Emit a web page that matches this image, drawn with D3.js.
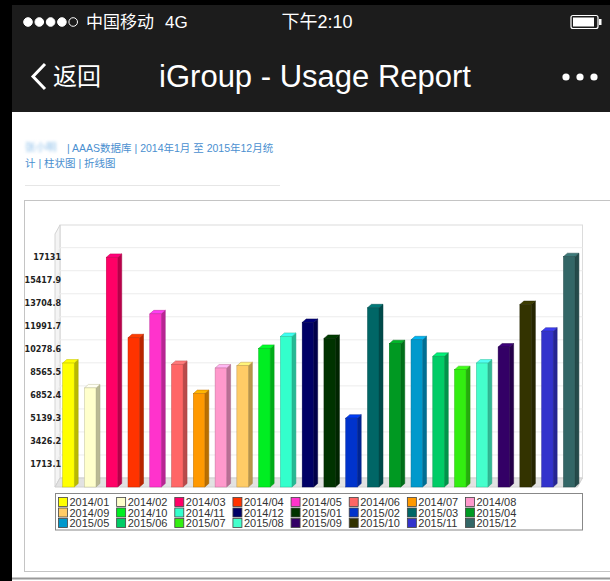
<!DOCTYPE html>
<html>
<head>
<meta charset="utf-8">
<script src="https://cdn.jsdelivr.net/npm/d3@7"></script>
<style>
  body { margin: 0; background: #fff; }
  svg { display: block; }
  text { font-family: "Liberation Sans", Arial, "Noto Sans CJK SC", sans-serif; }
</style>
</head>
<body>
<div id="chart"></div>
<script>
// data
const months = ['2014/01', '2014/02', '2014/03', '2014/04', '2014/05', '2014/06', '2014/07', '2014/08',
                '2014/09', '2014/10', '2014/11', '2014/12', '2015/01', '2015/02', '2015/03', '2015/04',
                '2015/05', '2015/06', '2015/07', '2015/08', '2015/09', '2015/10', '2015/11', '2015/12'];
const usage = [9220, 7370, 17080, 11100, 12880, 9120, 6950, 8850,
               9020, 10310, 11200, 12240, 11050, 5120, 13330, 10660,
               10950, 9720, 8730, 9220, 10410, 13570, 11590, 17131];
const barColors = ['#ffff00', '#ffffcc', '#ff0066', '#ff3300', '#ff33cc', '#ff6666', '#ff9900', '#ff99cc',
                   '#ffcc66', '#00ee22', '#33ffcc', '#000066', '#003300', '#0033cc', '#006666', '#009922',
                   '#0099cc', '#00cc66', '#33ee11', '#44ffcc', '#330066', '#333300', '#3333cc', '#336666'];
const yTicks = [1713.1, 3426.2, 5139.3, 6852.4, 8565.5, 10278.6, 11991.7, 13704.8, 15417.9, 17131];

const width = 610, height = 581;
const svg = d3.select('#chart').append('svg')
    .attr('width', width)
    .attr('height', height);

// ---- phone chrome ----
svg.append('rect').attr('width', width).attr('height', 112).attr('fill', '#1c1c1c');
svg.append('rect').attr('width', width).attr('height', 5).attr('fill', '#000');
svg.append('rect').attr('width', 12).attr('height', height).attr('fill', '#000');

// signal dots
d3.range(5).forEach(i => {
    svg.append('circle')
        .attr('cx', 28 + i * 11.3).attr('cy', 22).attr('r', 4.3)
        .attr('fill', i < 4 ? '#fff' : 'none')
        .attr('stroke', '#fff').attr('stroke-width', 1);
});
svg.append('text').attr('x', 86).attr('y', 28).attr('fill', '#fff')
    .attr('font-size', 17).text('中国移动');
svg.append('text').attr('x', 165).attr('y', 28).attr('fill', '#fff')
    .attr('font-size', 17).text('4G');
svg.append('text').attr('x', 317).attr('y', 28).attr('fill', '#fff')
    .attr('font-size', 18).attr('text-anchor', 'middle').text('下午2:10');
// battery
svg.append('rect').attr('x', 571).attr('y', 15.5).attr('width', 27).attr('height', 13)
    .attr('rx', 2).attr('fill', 'none').attr('stroke', '#fff').attr('stroke-width', 1.2);
svg.append('rect').attr('x', 573).attr('y', 17.5).attr('width', 21).attr('height', 9).attr('fill', '#fff');
svg.append('rect').attr('x', 599).attr('y', 19).attr('width', 2.5).attr('height', 6).attr('fill', '#fff');

// nav bar
svg.append('path').attr('d', 'M45,64 L33,76.5 L45,89')
    .attr('fill', 'none').attr('stroke', '#fff').attr('stroke-width', 3);
svg.append('text').attr('x', 53).attr('y', 85).attr('fill', '#fff')
    .attr('font-size', 24).text('返回');
svg.append('text').attr('x', 315).attr('y', 87).attr('fill', '#fff')
    .attr('font-size', 31).attr('text-anchor', 'middle').text('iGroup - Usage Report');
[566, 580, 594].forEach(cx => {
    svg.append('circle').attr('cx', cx).attr('cy', 77).attr('r', 3.6).attr('fill', '#fff');
});

// ---- page header ----
const blur = svg.append('defs').append('filter').attr('id', 'blur');
blur.append('feGaussianBlur').attr('stdDeviation', 1.6);
svg.append('text').attr('x', 25).attr('y', 151).attr('fill', '#8fc0ea')
    .attr('font-size', 10.5).attr('filter', 'url(#blur)').text('张小明');
svg.append('text').attr('x', 67).attr('y', 151.5).attr('fill', '#4a8fd0')
    .attr('font-size', 10.5).text('| AAAS数据库 | 2014年1月 至 2015年12月统');
svg.append('text').attr('x', 25).attr('y', 167).attr('fill', '#4a8fd0')
    .attr('font-size', 10.5).text('计 | 柱状图 | 折线图');
svg.append('line').attr('x1', 25).attr('x2', 280).attr('y1', 185.5).attr('y2', 185.5)
    .attr('stroke', '#e6e6e6');

// outer chart frame
svg.append('rect').attr('x', 24.5).attr('y', 200.5).attr('width', 600).attr('height', 371)
    .attr('fill', '#fff').attr('stroke', '#c4c4c4');
svg.append('line').attr('x1', 12).attr('x2', width).attr('y1', 578.5).attr('y2', 578.5)
    .attr('stroke', '#999').attr('stroke-width', 2);

// ---- 3D bar chart ----
const plotLeft = 55, plotRight = 577.5, baseY = 487, plotTop = 234;
const DX = 5, DY = -9;          // wall depth
const BD = 4, BDY = -3.5;       // bar depth

const xScale = d3.scaleBand()
    .domain(months)
    .range([plotLeft, plotRight]);

const yScale = d3.scaleLinear()
    .domain([0, d3.max(usage)])
    .range([baseY, 256.7]);

const g = svg.append('g');

// back wall
g.append('rect')
    .attr('x', plotLeft + DX).attr('y', plotTop + DY)
    .attr('width', plotRight - plotLeft).attr('height', baseY - plotTop)
    .attr('fill', '#fff').attr('stroke', '#dcdcdc');
// left wall
g.append('path')
    .attr('d', `M${plotLeft},${baseY} L${plotLeft},${plotTop} L${plotLeft + DX},${plotTop + DY} L${plotLeft + DX},${baseY + DY} Z`)
    .attr('fill', '#f4f4f4').attr('stroke', '#d4d4d4');

// gridlines on walls
g.selectAll('.grid')
    .data(yTicks)
    .enter()
    .append('path')
    .attr('class', 'grid')
    .attr('d', d => `M${plotLeft},${yScale(d)} L${plotLeft + DX},${yScale(d) + DY} L${plotRight + DX},${yScale(d) + DY}`)
    .attr('fill', 'none')
    .attr('stroke', '#ececec');

// floor
g.append('path')
    .attr('d', `M${plotLeft},${baseY} L${plotRight},${baseY} L${plotRight + DX},${baseY + DY} L${plotLeft + DX},${baseY + DY} Z`)
    .attr('fill', '#e2e2e2').attr('stroke', '#d0d0d0');

// y axis
const yAxis = d3.axisLeft(yScale)
    .tickValues(yTicks)
    .tickSize(0)
    .tickPadding(0)
    .tickFormat((d, i) => yTicks[i]);

const axisG = g.append('g')
    .attr('transform', 'translate(61,0)')
    .call(yAxis);
axisG.select('.domain').remove();
axisG.selectAll('text')
    .style('font-family', '"DejaVu Sans", Verdana, sans-serif')
    .style('font-weight', 'bold')
    .style('font-size', '8px')
    .attr('fill', '#222');

// bars
const barW = 11.5, barOff = 7.7;
const bars = g.selectAll('.bar')
    .data(months.map((m, i) => ({ month: m, value: usage[i], color: barColors[i] })))
    .enter()
    .append('g')
    .attr('class', 'bar');

bars.append('path')
    .attr('d', d => {
        const x = xScale(d.month) + barOff + barW, y = yScale(d.value);
        return `M${x},${y} L${x + BD},${y + BDY} L${x + BD},${baseY + BDY} L${x},${baseY} Z`;
    })
    .attr('fill', d => d3.color(d.color).darker(0.9))
    .attr('stroke', d => d3.color(d.color).darker(1.3))
    .attr('stroke-width', 0.5);

bars.append('path')
    .attr('d', d => {
        const x = xScale(d.month) + barOff, y = yScale(d.value);
        return `M${x},${y} L${x + BD},${y + BDY} L${x + barW + BD},${y + BDY} L${x + barW},${y} Z`;
    })
    .attr('fill', d => d3.color(d.color).brighter(0.5))
    .attr('stroke', d => d3.color(d.color).darker(0.8))
    .attr('stroke-width', 0.5);

bars.append('rect')
    .attr('x', d => xScale(d.month) + barOff)
    .attr('y', d => yScale(d.value))
    .attr('width', barW)
    .attr('height', d => baseY - yScale(d.value))
    .attr('fill', d => d.color)
    .attr('stroke', d => d3.color(d.color).darker(0.8))
    .attr('stroke-width', 0.5);

// legend
const legend = svg.append('g');
legend.append('rect')
    .attr('x', 55.5).attr('y', 493.5).attr('width', 527).attr('height', 36.5)
    .attr('fill', '#fff').attr('stroke', '#888');

const legendCol = d3.scaleLinear().domain([0, 7]).range([58, 465]);
const items = legend.selectAll('.item')
    .data(months.map((m, i) => ({ month: m, color: barColors[i], i })))
    .enter()
    .append('g')
    .attr('class', 'item')
    .attr('transform', d => `translate(${legendCol(d.i % 8)},${502 + Math.floor(d.i / 8) * 10.5})`);

items.append('rect')
    .attr('x', 0.5).attr('y', -4.5).attr('width', 9).attr('height', 9)
    .attr('fill', d => d.color)
    .attr('stroke', '#444').attr('stroke-width', 0.8);
items.append('text')
    .attr('x', 11.5).attr('y', 4)
    .attr('font-size', 11)
    .attr('fill', '#333')
    .text(d => d.month);
</script>
</body>
</html>
